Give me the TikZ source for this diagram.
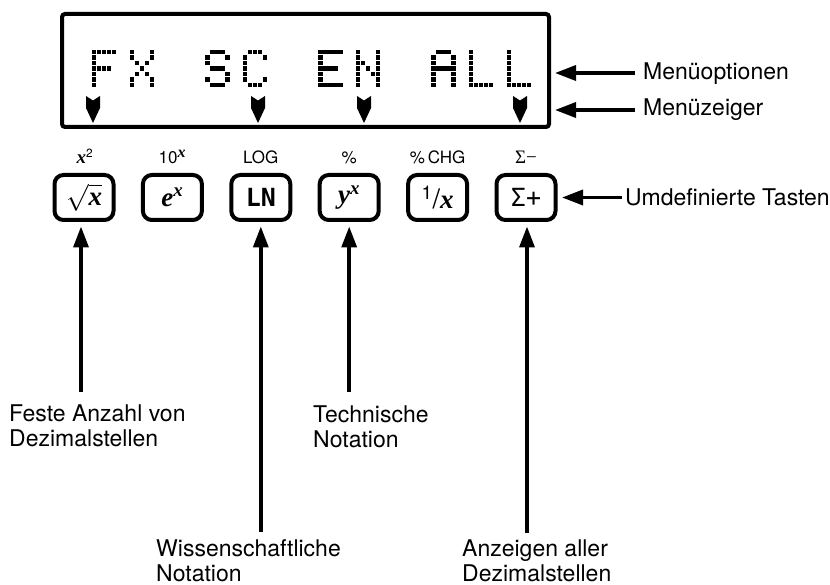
\RequirePackage{fix-cm}
\documentclass[tikz,border=0pt]{standalone}
\usepackage{fontspec}
\setmainfont{TeX Gyre Heros}
\newfontfamily\kserif{Liberation Serif}
\newfontfamily\kmono{DejaVu Sans Mono}
\usetikzlibrary{arrows.meta}
\newcommand\bix[1]{{\kserif\bfseries\itshape #1}}
% dot-matrix characters
\newcommand\dmsz{4.4}
\newcommand\dmcp{5.0}
\newcommand\dmrp{5.5}
\newcommand\dmtop{50}
\newcommand\dmdot[2]{\fill (\dmx+#1*\dmcp,\dmtop+#2*\dmrp) rectangle ++(\dmsz,\dmsz);}
\newcommand\dmrow[5]{\ifnum#1=1 \dmdot{0}{\ri}\fi\ifnum#2=1 \dmdot{1}{\ri}\fi\ifnum#3=1 \dmdot{2}{\ri}\fi\ifnum#4=1 \dmdot{3}{\ri}\fi\ifnum#5=1 \dmdot{4}{\ri}\fi}
\newcommand\dmchar[2]{\def\dmx{#1}\foreach \rr [count=\ri from 0] in {#2}{\expandafter\dmrow\rr}}
\newcommand\menupointer[1]{\fill (#1-7,96) -- (#1,100.5) -- (#1+7,96) -- (#1+7,108) -- (#1,123) -- (#1-7,108) -- cycle;}
\begin{document}
\begin{tikzpicture}[x=1pt,y=-1pt,
  arr/.style={line width=3.5pt,-{Triangle[length=21pt,width=15pt]}},
  key/.style={draw,line width=4pt,rounded corners=9pt,minimum width=59pt,minimum height=45pt,inner sep=0pt,font=\fontsize{27}{29}\selectfont},
  lbl/.style={font=\fontsize{23}{24.5}\selectfont,inner sep=0pt,anchor=base west,align=left},
  klab/.style={font=\fontsize{17}{18}\selectfont,inner sep=0pt,anchor=base}]
\useasboundingbox (0,0) rectangle (830,585);
% display
\node[draw,line width=4pt,rounded corners=3pt,minimum width=487pt,minimum height=113pt,inner sep=0pt] (disp) at (305.5,70.5) {};
\dmchar{92}{11111,10000,10000,11110,10000,10000,10000}
\dmchar{129.7}{10001,10001,01010,00100,01010,10001,10001}
\dmchar{205.1}{01110,10001,10000,01110,00001,10001,01110}
\dmchar{242.8}{01110,10001,10000,10000,10000,10001,01110}
\dmchar{318.2}{11111,10000,10000,11110,10000,10000,11111}
\dmchar{355.9}{10001,10001,11001,10101,10011,10001,10001}
\dmchar{431.3}{01110,10001,10001,11111,10001,10001,10001}
\dmchar{469}{10000,10000,10000,10000,10000,10000,11111}
\dmchar{506.7}{10000,10000,10000,10000,10000,10000,11111}
\menupointer{93}
\menupointer{258}
\menupointer{364}
\menupointer{520}
% right labels
\node[lbl] (mo) at (643,80) {Menüoptionen};
\node[lbl] (mz) at (643,116) {Menüzeiger};
\coordinate (mo1) at (635,73);
\coordinate (mz1) at (635,110);
\draw[arr,shorten >=4pt] (mo1) -- (mo1 -| disp.east);
\draw[arr,shorten >=4pt] (mz1) -- (mz1 -| disp.east);
% key labels
\node[klab] (u1) at (85,164) {{\fontsize{19}{19}\selectfont\bix{x}}\textsuperscript{2}};
\node[klab] (u2) at (172.4,164) {10\textsuperscript{\fontsize{16}{16}\selectfont\bix{x}}};
\node[klab] (u3) at (260.8,164) {LOG};
\node[klab] (u4) at (349.2,164) {\%};
\node[klab] (u5) at (437.6,164) {\%\,CHG};
\node[klab] (u6) at (526,164) {{\kserif\fontsize{19}{19}\selectfont Σ−}};
% keys
\node[key] (k1) at (84,197.5) {$\sqrt{\hbox{\bix{x}}}$};
\node[key] (k2) at (172.4,197.5) {\bix{e\textsuperscript{x}}};
\node[key] (k3) at (260.8,197.5) {{\kmono\bfseries\fontsize{25}{25}\selectfont LN}};
\node[key] (k4) at (349.2,197.5) {\bix{y\textsuperscript{x}}};
\node[key] (k5) at (437.6,197.5) {\textsuperscript{1}/\bix{x}};
\node[key] (k6) at (526,197.5) {{\kmono\fontsize{25}{25}\selectfont Σ+}};
\node[lbl] (ut) at (625,206) {Umdefinierte Tasten};
\coordinate (ut1) at (622,197.5);
\draw[arr,shorten >=4.5pt] (ut1) -- (ut1 -| k6.east);
% bottom labels (anchor = baseline of last line)
\node[lbl] (l1) at (9,446) {Feste Anzahl von\\Dezimalstellen};
\node[lbl] (l2) at (156,581) {Wissenschaftliche\\Notation};
\node[lbl] (l3) at (313,447) {Technische\\Notation};
\node[lbl] (l4) at (462,581) {Anzeigen aller\\Dezimalstellen};
\coordinate (a1) at (81,392);
\coordinate (a2) at (260.8,532);
\coordinate (a3) at (349.2,392);
\coordinate (a4) at (527,533);
\draw[arr,shorten >=4.5pt] (a1) -- (a1 |- k1.south);
\draw[arr,shorten >=4.5pt] (a2) -- (a2 |- k3.south);
\draw[arr,shorten >=4.5pt] (a3) -- (a3 |- k4.south);
\draw[arr,shorten >=4.5pt] (a4) -- (a4 |- k6.south);
\end{tikzpicture}
\end{document}
